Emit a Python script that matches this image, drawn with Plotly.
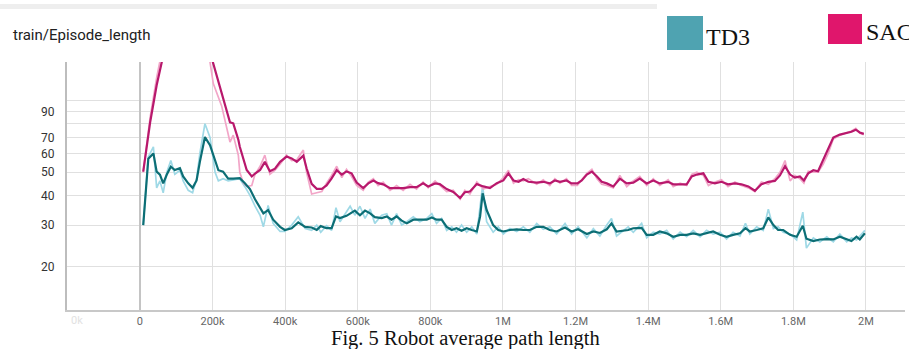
import plotly.graph_objects as go

# ---- data (steps in thousands) ----
td3_steps = [9, 23, 37, 46, 55, 64, 74, 85, 96, 110, 119, 133, 145, 156, 165, 179, 193, 207, 216, 229,
             243, 257, 275, 289, 303, 317, 331, 340, 353, 367, 386, 399, 418, 436, 455, 473, 487, 498, 514, 528,
             540, 551, 569, 579, 592, 606, 620, 634, 647, 666, 680, 693, 707, 721, 735, 753, 771, 790, 804, 817,
             831, 845, 859, 872, 886, 900, 914, 928, 937, 944, 955, 973, 987, 1001, 1019, 1038, 1056, 1074, 1093, 1111,
             1129, 1148, 1171, 1189, 1207, 1231, 1249, 1267, 1286, 1299, 1313, 1345, 1359, 1382, 1396, 1414, 1432, 1451, 1469, 1488,
             1506, 1524, 1543, 1561, 1579, 1598, 1616, 1634, 1653, 1668, 1680, 1699, 1717, 1731, 1745, 1758, 1772, 1791, 1809, 1826,
             1836, 1855, 1873, 1892, 1910, 1928, 1947, 1960, 1974, 1983, 1997]
td3_smooth = [30, 57, 60, 50.3, 48.9, 44.9, 48.9, 52.8, 51.1, 52, 48, 44.9, 43, 46.2, 55.3, 70.3, 65, 55.3, 51, 50.3,
              47, 47, 47.2, 45, 42.5, 38.5, 35.4, 33.6, 34.7, 31.6, 29.5, 28.6, 29.1, 30.8, 29.5, 29.3, 28.6, 29.7, 29.1, 29.1,
              32.6, 32.1, 32.8, 33.6, 34.5, 33, 34.5, 33.6, 32.4, 32.1, 32.6, 31.6, 32.6, 31.3, 30.5, 31.6, 31.6, 31.6, 32.3, 31.6,
              31.6, 29.5, 28.6, 29.1, 28.4, 29.1, 28.6, 28.2, 32.6, 40.8, 34.7, 30, 28.6, 28.2, 28.6, 28.8, 28.6, 28.6, 29.5, 29.5,
              28.6, 28.2, 29.3, 28.2, 28.8, 27.5, 28.2, 27.8, 28.8, 30.5, 28.2, 28.6, 29.1, 29.2, 27.3, 27.3, 28.2, 27.7, 26.8, 27.3,
              27.3, 27.7, 27.3, 27.7, 28.2, 27.3, 26.8, 27.3, 27.7, 29.1, 28.2, 28.6, 29.1, 32.3, 30, 28.6, 28.6, 27.3, 26.8, 29.8,
              26.3, 25.7, 26.1, 26.2, 26.1, 26.8, 26.1, 25.7, 26.8, 26.1, 27.7]
td3_raw = [30, 58, 64, 43, 46, 41, 50, 56, 49, 51, 46, 42, 41, 47, 60, 80, 70, 50, 46, 47,
           46, 46.5, 47, 43.5, 40, 36, 33, 29.5, 36.3, 30.5, 28.2, 28.2, 30, 32.5, 29, 28.5, 30, 28, 29.8, 28.5,
           35.5, 31, 34, 36, 33, 36, 32, 35, 30.5, 33, 33.5, 30, 33.5, 30, 31, 32.5, 31, 32, 33.5, 30.5,
           32, 28.5, 29.5, 28, 30, 28, 29.5, 27.5, 36, 44, 31, 28, 29.5, 27.5, 29, 28.2, 29.5, 28, 30.5, 28.8,
           29.5, 27.5, 30.5, 27.5, 29.5, 26.5, 29, 27, 30, 32, 27, 29.5, 28, 30.5, 26.5, 28, 27.5, 28.5, 26.2, 28,
           26.8, 28.5, 26.8, 28.5, 27.5, 28, 26.2, 28, 27, 30.5, 27.5, 29.5, 28.5, 35, 29, 29.5, 28, 27.5, 26, 34,
           24, 26.5, 25.5, 26.8, 25.5, 27.5, 25.5, 26.5, 26, 27, 28.5]

sac_steps = [9, 28, 46, 60, 96, 138, 179, 193, 202, 225, 248, 257, 262, 271, 275, 285, 294, 308, 317, 331,
             344, 358, 372, 386, 404, 418, 432, 450, 459, 473, 487, 501, 514, 528, 542, 556, 569, 583, 597, 615,
             629, 643, 656, 670, 689, 707, 725, 744, 762, 780, 794, 813, 826, 845, 863, 882, 895, 909, 928, 946,
             964, 983, 1001, 1015, 1029, 1043, 1056, 1070, 1093, 1111, 1129, 1143, 1157, 1175, 1189, 1205, 1217, 1231, 1245, 1259,
             1272, 1286, 1304, 1322, 1341, 1359, 1377, 1396, 1414, 1432, 1455, 1469, 1488, 1506, 1520, 1534, 1552, 1566, 1584, 1602,
             1620, 1639, 1657, 1676, 1694, 1712, 1731, 1749, 1763, 1777, 1791, 1804, 1818, 1829, 1841, 1855, 1868, 1882, 1896, 1910,
             1928, 1947, 1960, 1972, 1983, 1994]
sac_smooth = [50.3, 81, 116, 145, 220, 260, 190, 160, 145, 109, 81, 80.3, 76, 68.5, 64, 56.3, 51.1, 48, 49.4, 51.1,
              55.3, 50.5, 51.8, 55.3, 58.2, 57.2, 55.3, 58.7, 52, 44.7, 42.6, 42.6, 44, 47.1, 51, 48.9, 50.4, 49.5, 45.3, 42.9,
              44.9, 46.2, 45, 44.5, 42.9, 42.9, 42.9, 43.3, 43.3, 44.9, 43.6, 44.9, 44.6, 42.5, 41.3, 39, 41.2, 41.5, 44.6, 43.6,
              42.9, 45, 46.2, 49.5, 46.2, 45.6, 46.8, 45.6, 45.2, 45.6, 44.9, 46.2, 45.6, 46.2, 44.9, 44.9, 46.2, 48.9, 50.3, 48,
              45.6, 44.9, 43.6, 47, 44.9, 45.2, 47, 44.9, 46.2, 44.9, 45.6, 44.5, 44.5, 44.5, 48, 48.9, 49.5, 45.6, 44.9, 45.6,
              44.5, 44.9, 44.5, 43.6, 41.8, 44.5, 45.6, 46, 48.5, 53, 48.9, 47.5, 48, 46.2, 49.5, 51, 50.5, 56.3, 62, 70,
              72, 73, 74, 75.5, 73.5, 72.5]
sac_raw = [50, 85, 125, 160, 230, 270, 200, 145, 118, 95, 67, 71.6, 66, 59, 50, 45, 43.6, 44, 49, 53,
           59, 49, 51, 54, 59, 56, 56.5, 62, 50, 40.5, 41, 41.5, 45, 48.5, 53, 47.5, 51.5, 48, 44, 42,
           45.5, 47, 44, 45.5, 42, 44, 42, 44.5, 42.5, 45.5, 43, 46, 44, 41.5, 42, 38.5, 42, 40.5, 45.5, 42.5,
           43.5, 44.5, 47.5, 51, 45, 46.5, 46, 47, 44.5, 46.5, 44, 47, 45, 47, 44, 44, 46.5, 49.5, 51.5, 47,
           44.5, 44, 43, 48.5, 43.5, 46, 48, 44, 47, 44, 46.5, 43.5, 45, 44, 49, 50, 48.5, 44, 45.5, 46.5,
           43.5, 45.5, 44, 43, 41.5, 45.5, 44.5, 47, 50, 56, 46, 48.5, 47, 45, 50.5, 50, 50, 54, 60, 69,
           71.5, 73.5, 74.5, 76.5, 73, 72]

x_tick_vals = [0, 200, 400, 600, 800, 1000, 1200, 1400, 1600, 1800, 2000]
x_tick_text = ["0", "200k", "400k", "600k", "800k", "1M", "1.2M", "1.4M", "1.6M", "1.8M", "2M"]
y_grid_vals = [20, 30, 40, 50, 60, 70, 80, 90, 100]
y_tick_text = ["20", "30", "40", "50", "60", "70", "", "90", ""]

# ---- figure geometry (pixels) ----
W, H = 909, 349
L, R, T, B = 67, 4, 62, 39
PW, PH = W - L - R, H - T - B


def px(xp):
    return (xp - L) / PW


def py(yp):
    return (H - B - yp) / PH


fig = go.Figure()

fig.add_trace(go.Scatter(x=[s * 1000 for s in td3_steps], y=td3_raw, mode="lines",
                         line=dict(color="#9fd9e6", width=1.7), hoverinfo="skip", showlegend=False))
fig.add_trace(go.Scatter(x=[s * 1000 for s in sac_steps], y=sac_raw, mode="lines",
                         line=dict(color="#f2a6c8", width=1.7), hoverinfo="skip", showlegend=False))
fig.add_trace(go.Scatter(x=[s * 1000 for s in td3_steps], y=td3_smooth, mode="lines",
                         line=dict(color="#0c6e75", width=2.2), name="TD3", showlegend=False))
fig.add_trace(go.Scatter(x=[s * 1000 for s in sac_steps], y=sac_smooth, mode="lines",
                         line=dict(color="#b8186c", width=2.2), name="SAC", showlegend=False))

x_lo = -201000
x_hi = x_lo + (PW / 72.6) * 200000

fig.update_layout(
    width=W, height=H,
    margin=dict(l=L, r=R, t=T, b=B, pad=0),
    paper_bgcolor="white", plot_bgcolor="white",
    font=dict(family="Roboto", color="#444"),
    xaxis=dict(
        range=[x_lo, x_hi],
        tickvals=[v * 1000 for v in x_tick_vals], ticktext=x_tick_text,
        showgrid=True, gridcolor="#e0e0e0", gridwidth=1,
        zeroline=True, zerolinecolor="#c4c4c4", zerolinewidth=2,
        showline=True, linecolor="#c8c8c8", linewidth=1.5,
        ticks="", ticklabelstandoff=0,
        tickfont=dict(family="Roboto", size=11, color="#666"),
    ),
    yaxis=dict(
        type="log",
        range=[1.1203, 2.1623],
        tickvals=y_grid_vals, ticktext=y_tick_text,
        showgrid=True, gridcolor="#e0e0e0", gridwidth=1,
        zeroline=False,
        showline=True, linecolor="#bdbdbd", linewidth=2,
        ticks="", ticklabelstandoff=8,
        tickfont=dict(family="Roboto", size=12, color="#333"),
    ),
)

shapes = [
    # thin card edge at the very top
    dict(type="rect", xref="paper", yref="paper", x0=px(0), x1=px(657), y0=py(9), y1=py(4),
         fillcolor="#eeeeee", line=dict(width=0), layer="above"),
    # legend swatches
    dict(type="rect", xref="paper", yref="paper", x0=px(667), x1=px(703), y0=py(50), y1=py(16),
         fillcolor="#4fa3b1", line=dict(width=0)),
    dict(type="rect", xref="paper", yref="paper", x0=px(828), x1=px(862), y0=py(44), y1=py(14),
         fillcolor="#e0166c", line=dict(width=0)),
]
fig.update_layout(shapes=shapes)

annotations = [
    dict(text="train/Episode_length", xref="paper", yref="paper", x=px(11), y=py(35),
         xanchor="left", yanchor="middle", showarrow=False,
         font=dict(family="Roboto", size=15, color="#212121")),
    dict(text="TD3", xref="paper", yref="paper", x=px(704), y=py(37),
         xanchor="left", yanchor="middle", showarrow=False,
         font=dict(family="Liberation Serif", size=24, color="#111")),
    dict(text="SAC", xref="paper", yref="paper", x=px(864), y=py(32),
         xanchor="left", yanchor="middle", showarrow=False,
         font=dict(family="Liberation Serif", size=24, color="#111")),
    dict(text="0k", xref="paper", yref="paper", x=px(69), y=py(320),
         xanchor="left", yanchor="middle", showarrow=False,
         font=dict(family="Roboto", size=11, color="#e2e2e2")),
    dict(text="Fig. 5 Robot average path length", xref="paper", yref="paper", x=px(465), y=py(338),
         xanchor="center", yanchor="middle", showarrow=False,
         font=dict(family="Liberation Serif", size=20.5, color="#111")),
]
fig.update_layout(annotations=annotations)

fig.write_html("out.html")
